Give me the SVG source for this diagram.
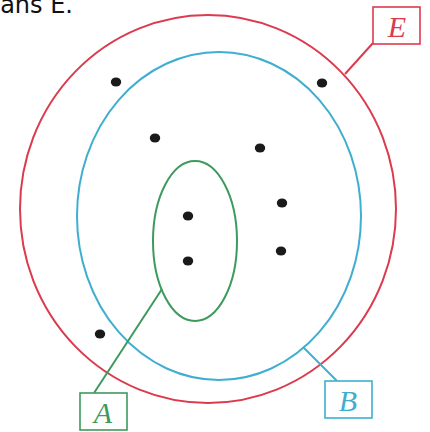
<svg xmlns="http://www.w3.org/2000/svg" width="430" height="432" viewBox="0 0 430 432">
<style>
.red{stroke:#dc3b4e;fill:none;stroke-width:2}
.blue{stroke:#40aed0;fill:none;stroke-width:2}
.green{stroke:#3d9a5e;fill:none;stroke-width:2}
.box{fill:#fff;stroke-width:1.6}
.lbl{font-family:"Liberation Serif",serif;font-style:italic;font-size:30px;text-anchor:middle}
.dot{fill:#1a1a1a}
.cap{font-family:"DejaVu Sans",sans-serif;font-size:24px;fill:#111}
</style>
<rect width="430" height="432" fill="#fff"/>
<text class="cap" x="73" y="13" text-anchor="end">dans E.</text>
<g id="E">
<ellipse class="red" cx="208" cy="209" rx="188" ry="194"/>
</g>
<g id="B">
<ellipse class="blue" cx="219" cy="216" rx="142" ry="164"/>
</g>
<g id="A">
<ellipse class="green" cx="195" cy="241" rx="42" ry="80"/>
</g>
<g id="points">
<ellipse class="dot" cx="116" cy="82" rx="5.2" ry="4.5"/>
<ellipse class="dot" cx="322" cy="83" rx="5.2" ry="4.5"/>
<ellipse class="dot" cx="155" cy="138" rx="5.2" ry="4.5"/>
<ellipse class="dot" cx="260" cy="148" rx="5.2" ry="4.5"/>
<ellipse class="dot" cx="282" cy="203" rx="5.2" ry="4.5"/>
<ellipse class="dot" cx="188" cy="216" rx="5.2" ry="4.5"/>
<ellipse class="dot" cx="281" cy="251" rx="5.2" ry="4.5"/>
<ellipse class="dot" cx="188" cy="261" rx="5.2" ry="4.5"/>
<ellipse class="dot" cx="100" cy="334" rx="5.2" ry="4.5"/>
</g>
<g id="connectors">
<line class="red" x1="373" y1="43" x2="345" y2="74"/>
<line class="green" x1="94" y1="393" x2="162" y2="289"/>
<line class="blue" x1="337" y1="381" x2="303" y2="347"/>
</g>
<g id="label-E">
<rect class="box" x="373" y="7" width="47" height="37" stroke="#dc3b4e"/>
<text class="lbl" x="397" y="37" fill="#dc3b4e">E</text>
</g>
<g id="label-A">
<rect class="box" x="80" y="393" width="47" height="37" stroke="#3d9a5e"/>
<text class="lbl" x="103" y="423" fill="#3d9a5e">A</text>
</g>
<g id="label-B">
<rect class="box" x="325" y="381" width="47" height="37" stroke="#40aed0"/>
<text class="lbl" x="348" y="411" fill="#40aed0">B</text>
</g>
</svg>
